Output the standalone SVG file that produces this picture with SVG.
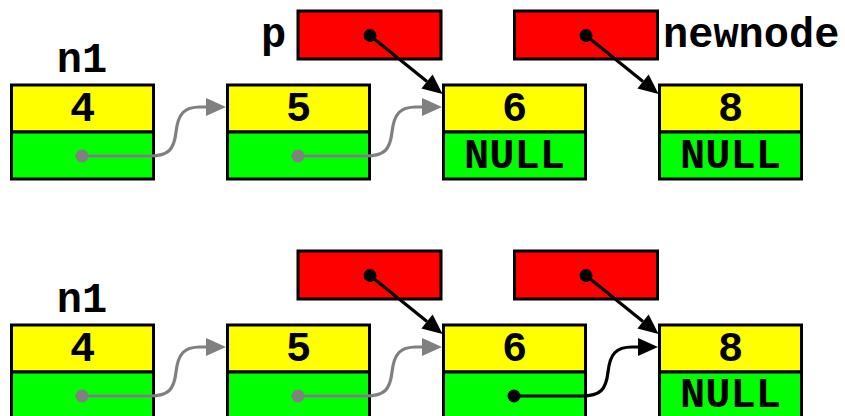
<svg xmlns="http://www.w3.org/2000/svg" width="845" height="416" viewBox="0 0 845 416">
<defs>
<style>
.t{font-family:"Liberation Mono","Courier New",monospace;font-weight:bold;font-size:42px;fill:#000}
.m{text-anchor:middle}
.val{fill:#ffff00;stroke:#000;stroke-width:3}
.nxt{fill:#00ff00;stroke:#000;stroke-width:3}
.ptr{fill:#ff0000;stroke:#000;stroke-width:3}
.g{fill:none;stroke:#808080;stroke-width:3.2}
.b{fill:none;stroke:#000;stroke-width:3.2}
</style>
<marker id="ag" markerUnits="userSpaceOnUse" markerWidth="20" markerHeight="20" refX="0" refY="10" orient="auto" overflow="visible">
<path d="M0,1 L20,10 L0,19 z" fill="#808080"/>
</marker>
<marker id="ab" markerUnits="userSpaceOnUse" markerWidth="20" markerHeight="20" refX="0" refY="9.5" orient="auto" overflow="visible">
<path d="M0,0.5 L20,9.5 L0,18.5 z" fill="#000"/>
</marker>
</defs>
<rect width="845" height="416" fill="#fff"/>

<!-- Top state -->
<g id="n1-label-top"><text class="t m" x="82" y="72">n1</text></g>
<g id="top-node4">
<rect class="val" x="11.5" y="85" width="142" height="47"/>
<rect class="nxt" x="11.5" y="132" width="142" height="47"/>
<text class="t m" x="82.5" y="121">4</text>
</g>
<g id="top-node5">
<rect class="val" x="227.5" y="85" width="142" height="47"/>
<rect class="nxt" x="227.5" y="132" width="142" height="47"/>
<text class="t m" x="298.5" y="121">5</text>
</g>
<g id="top-node6">
<rect class="val" x="443.5" y="85" width="142" height="47"/>
<rect class="nxt" x="443.5" y="132" width="142" height="47"/>
<text class="t m" x="514.5" y="121">6</text>
<text class="t m" x="514.5" y="168">NULL</text>
</g>
<g id="top-node8">
<rect class="val" x="659.5" y="85" width="142" height="47"/>
<rect class="nxt" x="659.5" y="132" width="142" height="47"/>
<text class="t m" x="730.5" y="121">8</text>
<text class="t m" x="730.5" y="168">NULL</text>
</g>
<g id="top-p">
<rect class="ptr" x="298" y="11" width="143" height="48"/>
<text class="t" x="261" y="47">p</text>
</g>
<g id="top-newnode">
<rect class="ptr" x="514.5" y="11" width="143" height="48"/>
<text class="t" x="663" y="47">newnode</text>
</g>

<!-- Bottom state -->
<g id="n1-label-bottom"><text class="t m" x="82" y="312">n1</text></g>
<g id="bot-node4">
<rect class="val" x="11.5" y="325" width="142" height="47"/>
<rect class="nxt" x="11.5" y="372" width="142" height="47"/>
<text class="t m" x="82.5" y="361">4</text>
</g>
<g id="bot-node5">
<rect class="val" x="227.5" y="325" width="142" height="47"/>
<rect class="nxt" x="227.5" y="372" width="142" height="47"/>
<text class="t m" x="298.5" y="361">5</text>
</g>
<g id="bot-node6">
<rect class="val" x="443.5" y="325" width="142" height="47"/>
<rect class="nxt" x="443.5" y="372" width="142" height="47"/>
<text class="t m" x="514.5" y="361">6</text>
</g>
<g id="bot-node8">
<rect class="val" x="659.5" y="325" width="142" height="47"/>
<rect class="nxt" x="659.5" y="372" width="142" height="47"/>
<text class="t m" x="730.5" y="361">8</text>
<text class="t m" x="730.5" y="407">NULL</text>
</g>
<g id="bot-p">
<rect class="ptr" x="298" y="251" width="143" height="48"/>
</g>
<g id="bot-newnode">
<rect class="ptr" x="514.5" y="251" width="143" height="48"/>
</g>

<g id="connectors">
<!-- top -->
<circle cx="82" cy="156" r="6.5" fill="#808080"/>
<path class="g" d="M82,156 H150 C168,156 174,150 176,132 C178,114 184,107 200,107 H206" marker-end="url(#ag)"/>
<circle cx="298" cy="156" r="6.5" fill="#808080"/>
<path class="g" d="M298,156 H366 C384,156 390,150 392,132 C394,114 400,107 416,107 H422" marker-end="url(#ag)"/>
<circle cx="370" cy="35.5" r="6.5" fill="#000"/>
<path class="b" d="M370,35.5 L427,81.5" marker-end="url(#ab)"/>
<circle cx="586" cy="35.5" r="6.5" fill="#000"/>
<path class="b" d="M586,35.5 L643,81.5" marker-end="url(#ab)"/>
<!-- bottom -->
<circle cx="82" cy="396" r="6.5" fill="#808080"/>
<path class="g" d="M82,396 H150 C168,396 174,390 176,372 C178,354 184,347 200,347 H206" marker-end="url(#ag)"/>
<circle cx="298" cy="396" r="6.5" fill="#808080"/>
<path class="g" d="M298,396 H366 C384,396 390,390 392,372 C394,354 400,347 416,347 H422" marker-end="url(#ag)"/>
<circle cx="370" cy="275.5" r="6.5" fill="#000"/>
<path class="b" d="M370,275.5 L427,321.5" marker-end="url(#ab)"/>
<circle cx="586" cy="275.5" r="6.5" fill="#000"/>
<path class="b" d="M586,275.5 L643,321.5" marker-end="url(#ab)"/>
<circle cx="514" cy="396" r="6.5" fill="#000"/>
<path class="b" d="M514,396 H582 C600,396 606,390 608,372 C610,354 616,347 632,347 H638" marker-end="url(#ab)"/>
</g>
</svg>
